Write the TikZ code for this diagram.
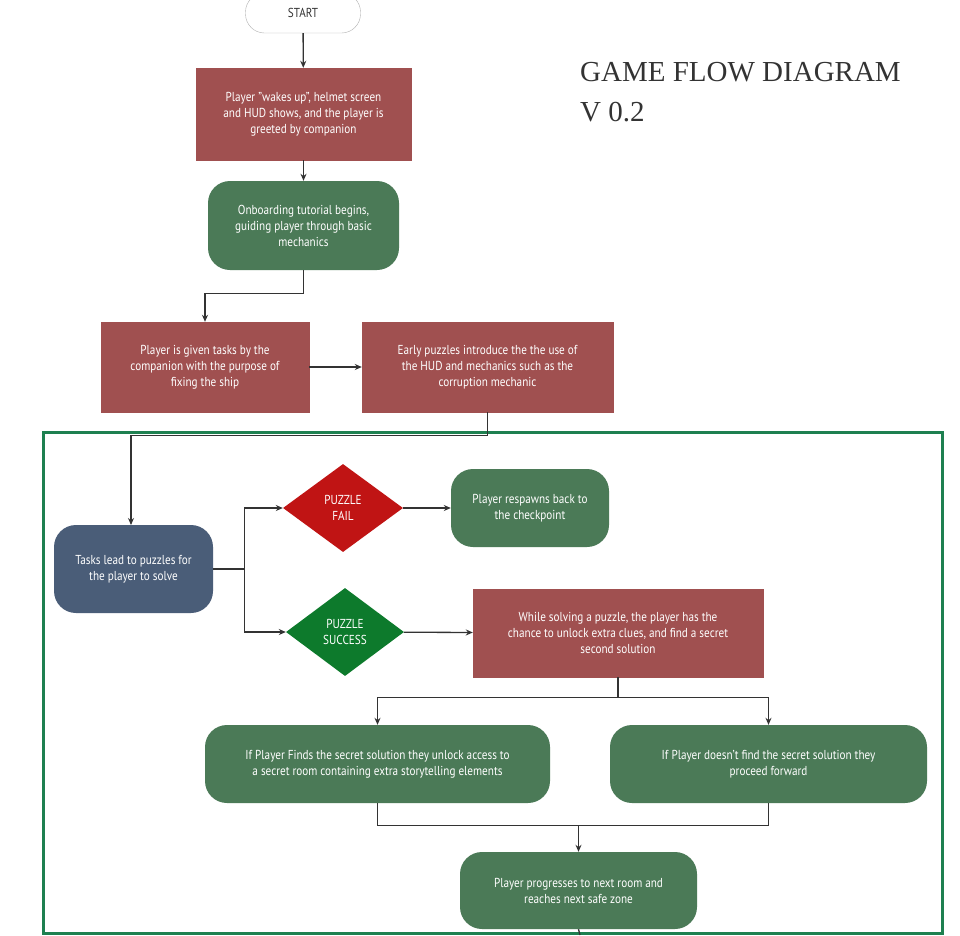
\documentclass[tikz,border=0pt]{standalone}
\usepackage{fontspec}
\setmainfont[FakeStretch=0.86]{PT Sans}
\newfontfamily\titlefont{Liberation Serif}
\usetikzlibrary{shapes.geometric,arrows.meta}
\definecolor{cred}{HTML}{A05050}
\definecolor{cgreen}{HTML}{4B7A57}
\definecolor{cblue}{HTML}{4A5D78}
\definecolor{dred}{HTML}{C01414}
\definecolor{dgreen}{HTML}{0D7A2C}
\definecolor{frame}{HTML}{1E8050}
\definecolor{lin}{HTML}{333333}
\tikzset{
 base/.style={text=white,font=\fontsize{13}{16}\selectfont,align=center,inner sep=0pt},
 rbox/.style={base,fill=cred,draw=cred},
 gbox/.style={base,fill=cgreen,rounded corners=22pt},
 bbox/.style={base,fill=cblue,rounded corners=22pt},
 dia/.style={base,diamond,aspect=1.36},
 con/.style={draw=lin,line width=1.3pt,-{Stealth[length=7pt,width=6pt]}},
 ln/.style={draw=lin,line width=1.3pt},
}
\begin{document}
\begin{tikzpicture}[x=1pt,y=-1pt]
\useasboundingbox (0,0) rectangle (960,935);
\fill[white] (0,0) rectangle (960,935);
\draw[frame,line width=3pt] (43,432) rectangle (942,933);
\node[draw=gray!60,fill=white,rounded corners=19pt,minimum width=115pt,minimum height=40pt,font=\fontsize{13}{16}\selectfont,text=lin] (start) at (303,13) {START};
\node[rbox,minimum width=215pt,minimum height=92pt] (b1) at (303.5,114) {Player "wakes up", helmet screen\\and HUD shows, and the player is\\greeted by companion};
\node[gbox,minimum width=191pt,minimum height=89pt] (g1) at (303.5,225.5) {Onboarding tutorial begins,\\guiding player through basic\\mechanics};
\node[rbox,minimum width=208pt,minimum height=90pt] (b2) at (205,367) {Player is given tasks by the\\companion with the purpose of\\fixing the ship};
\node[rbox,minimum width=251pt,minimum height=90pt] (b3) at (487.5,367) {Early puzzles introduce the the use of\\the HUD and mechanics such as the\\corruption mechanic};
\node[font=\titlefont\fontsize{29}{40}\selectfont,anchor=north west,align=left,text=lin,inner sep=0pt] (title) at (580,62) {GAME FLOW DIAGRAM\\V 0.2};
\node[bbox,minimum width=159pt,minimum height=88pt] (t) at (133.5,569) {Tasks lead to puzzles for\\the player to solve};
\coordinate (tin) at (131,525);
\node[dia,fill=dred,minimum width=120pt,minimum height=88pt] (fail) at (343,508) {PUZZLE\\FAIL};
\node[dia,fill=dgreen,minimum width=118pt,minimum height=88pt] (succ) at (345,632) {PUZZLE\\SUCCESS};
\node[gbox,minimum width=158pt,minimum height=78pt] (resp) at (530,508) {Player respawns back to\\the checkpoint};
\node[rbox,minimum width=290pt,minimum height=88pt] (b4) at (618,633) {While solving a puzzle, the player has the\\chance to unlock extra clues, and find a secret\\second solution};
\node[gbox,minimum width=345pt,minimum height=78pt] (l) at (377.5,764) {If Player Finds the secret solution they unlock access to\\a secret room containing extra storytelling elements};
\node[gbox,minimum width=317pt,minimum height=78pt] (r) at (768.5,764) {If Player doesn't find the secret solution they\\proceed forward};
\node[gbox,minimum width=237pt,minimum height=77pt] (fin) at (578.5,890.5) {Player progresses to next room and\\reaches next safe zone};
\coordinate (join) at (578.5,825);
\coordinate (endc) at (580,935);
\draw[con] (start) -- (b1);
\draw[con] (b1) -- (g1);
\draw[con] (g1.south) -- ++(0,23) -| (b2.north);
\draw[con] (b2) -- (b3);
\draw[con] (b3.south) -- ++(0,23) -| (tin);
\draw[con] (t.east) -- ++(31,0) |- (fail.west);
\draw[con] (t.east) -- ++(31,0) |- (succ.west);
\draw[con] (fail) -- (resp);
\draw[con] (succ) -- (b4);
\draw[con] (b4.south) -- ++(0,20) -| (l.north);
\draw[con] (b4.south) -- ++(0,20) -| (r.north);
\draw[ln] (l.south) -- ++(0,22) -| (r.south);
\draw[con] (join) -- (fin.north);
\draw[ln] (fin.south) -- (endc);
\end{tikzpicture}
\end{document}
